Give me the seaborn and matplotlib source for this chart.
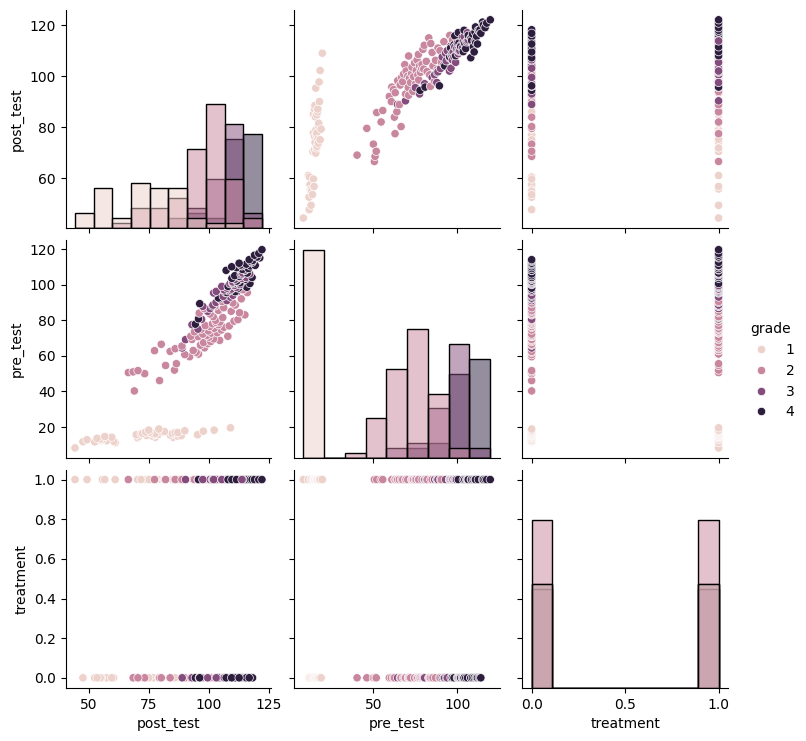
import numpy as np
import pandas as pd
import seaborn as sns
import matplotlib.pyplot as plt

# grade 1 (first 21 control, last 21 treated)
g1_pre = [11.8, 11.7, 13.7, 13.3, 12.5, 12.3, 14.3, 12.0, 15.7, 14.9, 16.5,
          17.2, 18.3, 15.0, 16.0, 18.9, 17.3, 15.5, 16.8, 15.2, 17.7,
          8.3, 12.9, 13.0, 14.7, 11.3, 14.0, 16.2, 15.3, 17.0, 14.3, 16.3,
          15.8, 17.5, 16.3, 14.3, 14.9, 16.9, 17.9, 15.7, 18.3, 19.6]
g1_post = [47.6, 52.5, 53.5, 54.8, 55.4, 57.4, 59.6, 60.4, 69.8, 71.1, 72.5,
           73.7, 75.0, 76.4, 77.0, 79.2, 80.5, 84.0, 86.0, 88.5, 97.7,
           44.3, 49.3, 55.7, 56.7, 61.0, 70.4, 71.8, 74.0, 75.2, 77.7, 77.7,
           78.9, 81.5, 84.8, 85.1, 87.1, 87.1, 90.0, 95.3, 102.2, 109.0]
g1_trt = [0] * 21 + [1] * 21

# grade 2
g2_pre = [40.3, 50.6, 50.0, 51.0, 51.7, 46.1, 52.0, 54.6, 55.6,
          62.9, 66.5, 62.5, 65.5, 60.7, 64.0, 59.5, 63.0, 62.0, 61.0, 66.0,
          67.5, 64.5, 68.0, 69.5, 68.7, 66.8, 69.2,
          71.0, 73.5, 70.8, 75.0, 72.2, 77.0, 71.5, 74.0, 76.5, 72.8, 78.0,
          75.5, 80.0, 73.0, 77.5, 79.0, 74.5, 81.5, 76.0, 70.5, 78.8, 82.0,
          71.0, 76.8, 79.5, 80.3,
          84.0, 86.5, 83.5, 88.0, 85.5, 90.5, 87.0, 85.0, 89.7, 84.2, 92.0,
          88.5, 83.0, 97.1, 95.5]
g2_post = [69.0, 66.5, 73.3, 68.5, 70.5, 79.5, 85.7, 82.0, 86.5,
           77.4, 80.2, 83.9, 88.8, 90.0, 86.0, 92.0, 93.5, 94.7, 95.7, 96.5,
           97.8, 98.2, 100.8, 102.0, 104.5, 99.5, 93.0,
           92.5, 94.0, 95.5, 96.8, 97.5, 98.5, 99.2, 99.8, 100.4, 101.0, 101.5,
           102.2, 102.8, 103.5, 104.0, 104.6, 105.2, 105.8, 106.3, 100.0, 103.0,
           101.8, 107.9, 108.5, 110.5, 112.1,
           96.0, 98.0, 100.5, 102.5, 104.0, 105.5, 106.2, 109.3, 110.0, 112.8,
           113.5, 111.0, 115.0, 114.2, 116.0]
g2_trt = [0, 1, 0, 0, 0, 0, 1, 1, 1,
          1, 0, 0, 1, 0, 1, 0, 1, 0, 1, 0, 1, 1, 0, 1, 0, 1, 0,
          0, 1, 0, 1, 0, 1, 0, 1, 0, 1, 0, 1, 0, 1, 0, 1, 0, 1, 0, 1, 0, 1,
          0, 1, 0, 1,
          0, 1, 0, 1, 0, 1, 0, 1, 0, 1, 0, 1, 0, 1, 1]

# grade 3
g3_pre = [64.4, 69.1, 77.5, 75.0, 80.5,
          87.8, 85.0, 88.5, 93.4, 90.0, 92.0, 86.5, 91.0, 93.0, 94.0,
          95.3, 96.2, 99.0, 97.0, 95.5, 98.0, 96.5, 100.5, 97.5, 101.5, 99.5,
          103.0, 98.5, 102.0, 104.5, 100.0, 105.5, 103.5, 106.5, 101.0, 96.0,
          104.0, 106.0, 108.0, 110.5]
g3_post = [88.9, 90.3, 93.0, 95.5, 97.0,
           97.5, 99.5, 101.7, 106.0, 103.0, 104.5, 100.5, 107.5, 109.0, 110.0,
           102.0, 103.1, 105.4, 106.4, 107.0, 107.6, 108.2, 108.8, 109.4, 110.0,
           110.6, 111.0, 111.5, 112.0, 112.5, 113.0, 113.4, 113.8, 114.2, 109.8,
           111.8, 115.5, 117.0, 115.0, 113.8]
g3_trt = [0, 1] * 20

# grade 4
g4_pre = [77.8, 80.8, 89.3, 88.0, 92.5,
          95.5, 97.0, 99.0, 100.5, 96.0, 102.0, 98.0, 103.5, 101.0, 104.5,
          106.0, 105.0, 100.6, 103.0, 106.5, 104.0, 98.5,
          108.0, 109.5, 111.0, 108.5, 110.0, 112.0, 108.2, 109.0, 110.5, 111.5,
          112.5, 113.5, 114.0, 115.5, 116.5, 117.5, 119.6, 113.0, 110.8, 115.0]
g4_post = [94.4, 95.7, 96.2, 101.5, 104.0,
           107.5, 109.0, 108.0, 110.2, 111.0, 111.6, 112.3, 109.6, 113.0, 112.8,
           113.9, 110.8, 117.1, 115.2, 116.0, 118.0, 115.8,
           107.2, 111.5, 113.2, 114.0, 109.5, 112.6, 115.0, 116.5, 117.3, 115.6,
           118.0, 118.2, 116.8, 120.1, 119.0, 120.8, 122.1, 117.5, 119.3, 121.2]
g4_trt = [0, 1, 0, 1, 0, 1, 0, 1, 0, 1, 0, 0, 1, 0, 1, 0, 0, 1, 0, 1, 0,
          1, 0, 1, 0, 1, 0, 0, 1, 0, 1, 0, 1, 0, 0, 1, 1, 1, 1, 0, 1, 1]

pre = g1_pre + g2_pre + g3_pre + g4_pre
post = g1_post + g2_post + g3_post + g4_post
trt = g1_trt + g2_trt + g3_trt + g4_trt
grade = [1] * len(g1_pre) + [2] * len(g2_pre) + [3] * len(g3_pre) + [4] * len(g4_pre)

df = pd.DataFrame({'post_test': post, 'pre_test': pre,
                   'treatment': trt, 'grade': grade})
# mix the grades in drawing order so no single grade sits on top
df = df.sort_values('pre_test', kind='stable').reset_index(drop=True)

g = sns.pairplot(df, hue='grade', diag_kind='hist')
g.savefig('out.png', dpi=100)
